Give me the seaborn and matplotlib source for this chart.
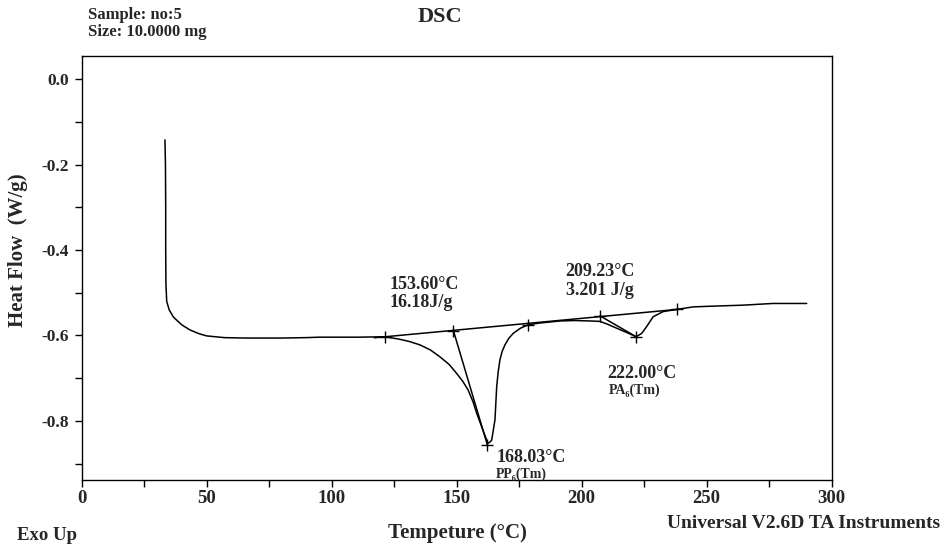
import matplotlib
matplotlib.use("Agg")
import matplotlib.pyplot as plt
import seaborn as sns
import pandas as pd
from matplotlib.ticker import MultipleLocator, FuncFormatter

# ---- data ----
temperature = [33.3, 33.5, 33.6, 33.6, 33.7, 34.0, 35.0, 36.7, 40.0, 43.3, 47.0, 50.0, 57.0,
               65.0, 80.0, 90.0, 95.0, 110.0, 121.4, 127.3, 131.0, 135.3, 139.5, 143.3,
               147.0, 150.0, 152.5, 154.6, 156.5, 158.0, 160.0, 162.0, 162.3, 163.2, 164.0,
               165.3, 166.0, 166.6, 167.3, 168.2, 169.3, 170.8, 172.6, 175.5, 178.6, 183.0,
               191.3, 197.0, 203.3, 207.3, 210.5, 214.0, 218.0, 221.8, 224.0, 226.0, 228.6,
               232.6, 238.0, 244.6, 254.0, 264.5, 276.5, 290.0]
heat_flow = [-0.142, -0.20, -0.30, -0.40, -0.48, -0.52, -0.54, -0.557, -0.575, -0.587, -0.596,
             -0.601, -0.605, -0.606, -0.606, -0.605, -0.604, -0.604, -0.603, -0.609, -0.614,
             -0.622, -0.634, -0.650, -0.668, -0.689, -0.708, -0.728, -0.755, -0.782, -0.814,
             -0.845, -0.853, -0.850, -0.845, -0.798, -0.720, -0.685, -0.657, -0.637, -0.622,
             -0.607, -0.595, -0.583, -0.575, -0.571, -0.566, -0.565, -0.566, -0.567, -0.574,
             -0.583, -0.593, -0.603, -0.595, -0.579, -0.556, -0.544, -0.539, -0.533, -0.531,
             -0.529, -0.525, -0.525]

baseline_t = [117.0, 240.0]
baseline_y = [-0.6054, -0.5379]
tangent1_t = [148.7, 162.3]
tangent1_y = [-0.589, -0.857]
tangent2_t = [207.3, 221.8]
tangent2_y = [-0.554, -0.603]
marker_t = [121.4, 148.7, 162.3, 178.6, 207.3, 221.8, 238.0]
marker_y = [-0.603, -0.589, -0.857, -0.575, -0.554, -0.603, -0.539]

x_ticks = [0, 50, 100, 150, 200, 250, 300]
y_ticks = [0.0, -0.2, -0.4, -0.6, -0.8]

# ---- figure ----
sns.set_theme(style="white")
plt.rcParams['font.family'] = ['Liberation Serif', 'DejaVu Serif']
plt.rcParams['font.weight'] = 'bold'
plt.rcParams['axes.unicode_minus'] = False

W, H = 946, 548
fig = plt.figure(figsize=(W / 100, H / 100), dpi=100)
ax = fig.add_axes([81.7 / W, 1 - 480 / H, (831.7 - 81.7) / W, (480 - 56) / H])

df = pd.DataFrame({"T": temperature, "HF": heat_flow})
sns.lineplot(data=df, x="T", y="HF", ax=ax, sort=False, estimator=None,
             color="black", linewidth=1.1)
sns.lineplot(x=baseline_t, y=baseline_y, ax=ax, color="black", linewidth=1.1)
sns.lineplot(x=tangent1_t, y=tangent1_y, ax=ax, color="black", linewidth=1.1)
sns.lineplot(x=tangent2_t, y=tangent2_y, ax=ax, color="black", linewidth=1.1)
ax.plot(marker_t, marker_y, linestyle="none", marker="+", markersize=9,
        markeredgewidth=1.0, color="black")

ax.set_xlim(0, 300)
ax.set_ylim(-0.9385, 0.0546)
ax.set_xticks(x_ticks)
ax.set_yticks(y_ticks)
ax.xaxis.set_minor_locator(MultipleLocator(25))
ax.yaxis.set_minor_locator(MultipleLocator(0.1))
ax.yaxis.set_major_formatter(FuncFormatter(lambda v, p: f"{v:.1f}".replace("-0.0", "0.0")))
ax.tick_params(axis="both", which="both", direction="out", length=5, width=1,
               color="black", left=True, bottom=True)
ax.tick_params(axis="x", labelsize=13.5, pad=2)
ax.tick_params(axis="y", labelsize=12.5, pad=4)
for lab in ax.get_xticklabels() + ax.get_yticklabels():
    lab.set_fontweight("bold")
for s in ax.spines.values():
    s.set_color("black")
    s.set_linewidth(1.0)
ax.set_xlabel("")
ax.set_ylabel("")

# annotations in data coordinates
fs = 13
ax.text(123.3, -0.480, "153.60°C", fontsize=fs, fontweight="bold", va="center", ha="left")
ax.text(123.3, -0.523, "16.18J/g", fontsize=fs, fontweight="bold", va="center", ha="left")
ax.text(207.4, -0.450, "209.23°C", fontsize=fs, fontweight="bold", va="center", ha="center")
ax.text(207.4, -0.494, "3.201 J/g", fontsize=fs, fontweight="bold", va="center", ha="center")
ax.text(210.1, -0.689, "222.00°C", fontsize=fs, fontweight="bold", va="center", ha="left")
ax.text(211.0, -0.729, "PA₆(Tm)", fontsize=10, fontweight="bold", va="center", ha="left")
ax.text(166.1, -0.886, "168.03°C", fontsize=fs, fontweight="bold", va="center", ha="left")
ax.text(165.8, -0.926, "PP₆(Tm)", fontsize=10, fontweight="bold", va="center", ha="left")

# figure texts
def ft(x, y, s, **kw):
    fig.text(x / W, 1 - y / H, s, fontweight="bold", **kw)

ft(440, 17, "DSC", fontsize=16, ha="center", va="center")
ft(88, 15, "Sample: no:5", fontsize=12, ha="left", va="center")
ft(88, 32, "Size: 10.0000 mg", fontsize=12, ha="left", va="center")
ft(18, 250, "Heat Flow  (W/g)", fontsize=15, ha="center", va="center", rotation=90)
ft(457, 533, "Tempeture (°C)", fontsize=15, ha="center", va="center")
ft(17, 535, "Exo Up", fontsize=13.5, ha="left", va="center")
ft(940, 524, "Universal V2.6D TA Instruments", fontsize=14, ha="right", va="center")

fig.savefig("out.png", dpi=100)
